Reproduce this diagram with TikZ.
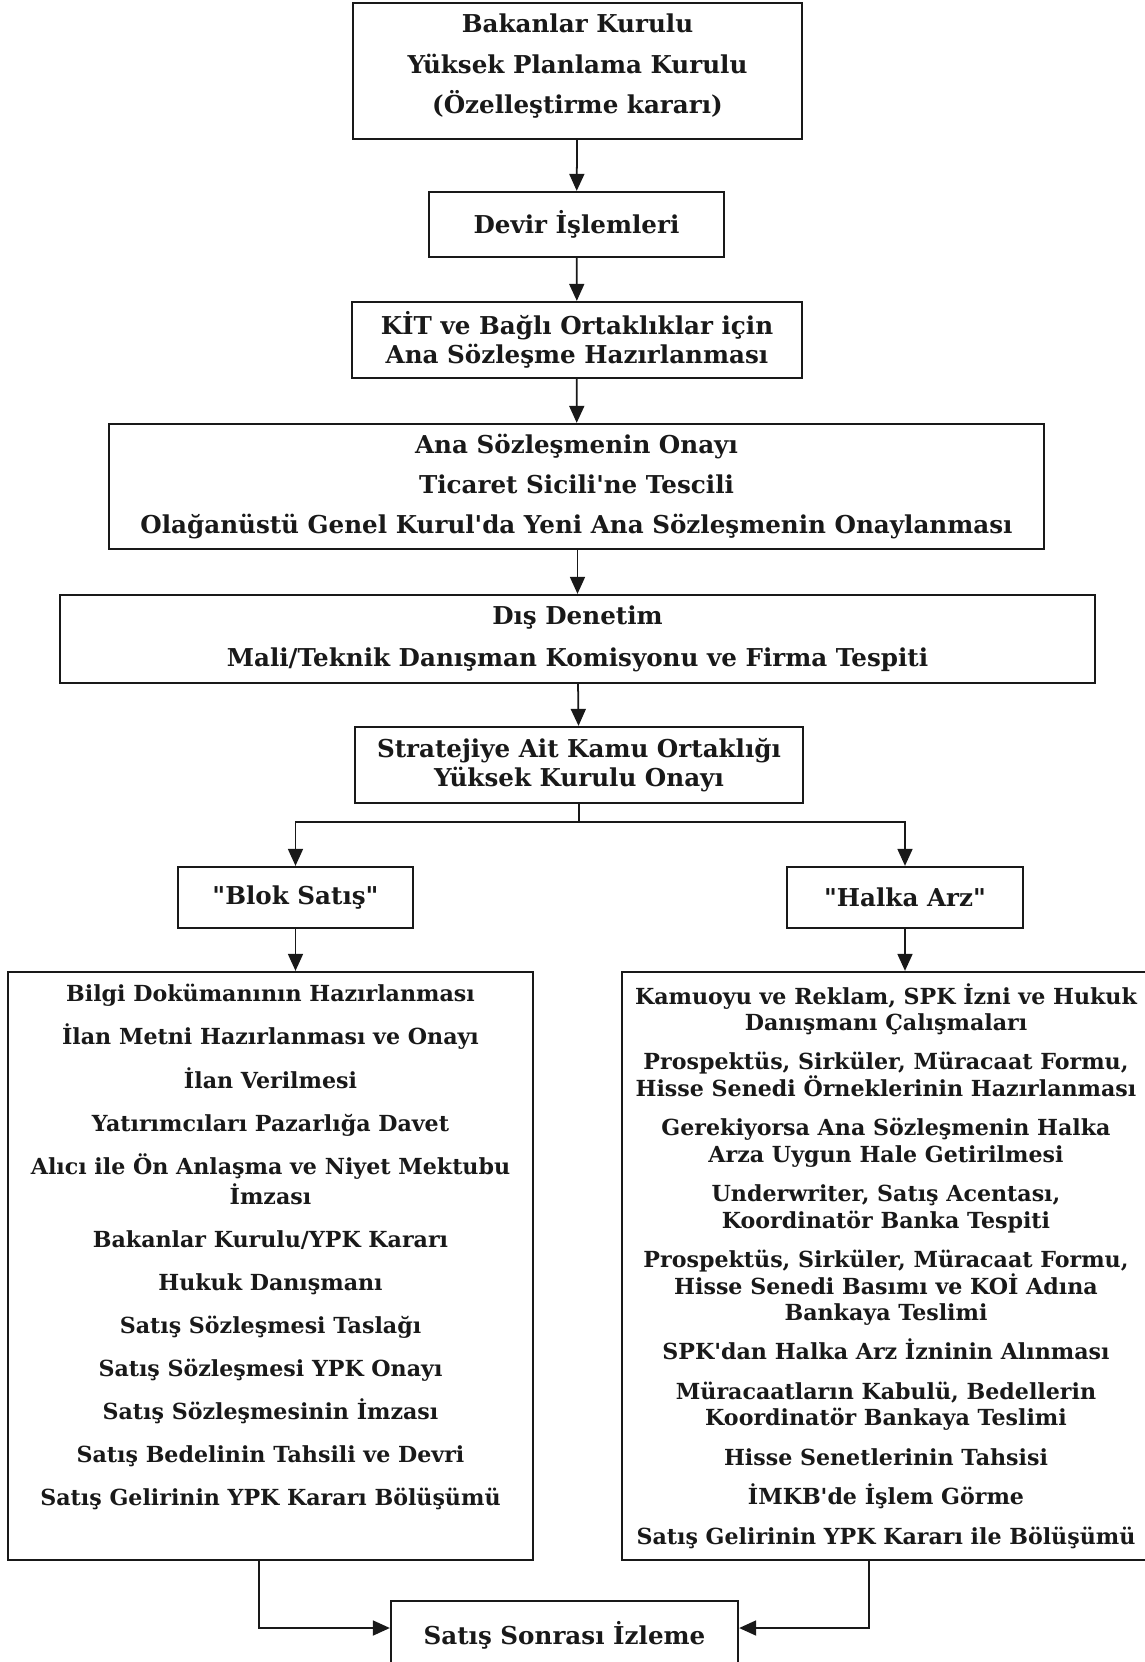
\documentclass[tikz,border=0pt]{standalone}
\usepackage{fontspec}
\setmainfont{DejaVu Serif}[Ligatures=TeXOff]
\usetikzlibrary{arrows.meta}

\begin{document}
\begin{tikzpicture}[
  every node/.style = {shape=rectangle, draw=black!90, line width=1.3pt,
    align=center, inner sep=0pt, text=black!90,
    font=\bfseries\fontsize{14}{16.5}\selectfont},
  arr/.style = {draw=black!90, line width=1pt,
    -{Triangle[length=3.4mm, width=3mm]}},
  ]
  \useasboundingbox (0,0) rectangle (22.9,-33.24);
  % ust kisim
  \node[minimum width=8.98cm, minimum height=2.72cm] (kurul) at (11.55,-1.42)
    {Bakanlar Kurulu\\[6.5pt] Yüksek Planlama Kurulu\\[6.5pt] (Özelleştirme kararı)\\[-8.5pt]\mbox{}};
  \node[minimum width=5.9cm, minimum height=1.3cm] (devir) at (11.53,-4.49)
    {Devir İşlemleri};
  \node[minimum width=9cm, minimum height=1.52cm] (anasoz) at (11.54,-6.8)
    {KİT ve Bağlı Ortaklıklar için\\ Ana Sözleşme Hazırlanması};
  \node[minimum width=18.7cm, minimum height=2.5cm] (onay) at (11.53,-9.73)
    {Ana Sözleşmenin Onayı\\[6pt] Ticaret Sicili'ne Tescili\\[6pt]
     Olağanüstü Genel Kurul'da Yeni Ana Sözleşmenin Onaylanması};
  \node[minimum width=20.7cm, minimum height=1.76cm] (denetim) at (11.55,-12.78)
    {Dış Denetim\\[7pt] Mali/Teknik Danışman Komisyonu ve Firma Tespiti};
  \node[minimum width=8.96cm, minimum height=1.52cm] (strateji) at (11.58,-15.3)
    {Stratejiye Ait Kamu Ortaklığı\\ Yüksek Kurulu Onayı};
  % iki yol
  \node[minimum width=4.7cm, minimum height=1.22cm] (blok) at (5.91,-17.95)
    {"Blok Satış"};
  \node[minimum width=4.72cm, minimum height=1.22cm] (halka) at (18.1,-17.95)
    {"Halka Arz"};
  \node[minimum width=10.5cm, minimum height=11.76cm,
        font=\bfseries\fontsize{12.6}{17}\selectfont] (blokadim) at (5.41,-25.32)
    {Bilgi Dokümanının Hazırlanması\\[7.5pt]
     İlan Metni Hazırlanması ve Onayı\\[7.5pt]
     İlan Verilmesi\\[7.5pt]
     Yatırımcıları Pazarlığa Davet\\[7.5pt]
     Alıcı ile Ön Anlaşma ve Niyet Mektubu\\
     İmzası\\[7.5pt]
     Bakanlar Kurulu/YPK Kararı\\[7.5pt]
     Hukuk Danışmanı\\[7.5pt]
     Satış Sözleşmesi Taslağı\\[7.5pt]
     Satış Sözleşmesi YPK Onayı\\[7.5pt]
     Satış Sözleşmesinin İmzası\\[7.5pt]
     Satış Bedelinin Tahsili ve Devri\\[7.5pt]
     Satış Gelirinin YPK Kararı Bölüşümü\\[7pt]\mbox{}};
  \node[minimum width=10.56cm, minimum height=11.76cm,
        font=\bfseries\fontsize{12.6}{15}\selectfont] (halkaadim) at (17.72,-25.32)
    {Kamuoyu ve Reklam, SPK İzni ve Hukuk\\
     Danışmanı Çalışmaları\\[7.5pt]
     Prospektüs, Sirküler, Müracaat Formu,\\
     Hisse Senedi Örneklerinin Hazırlanması\\[7.5pt]
     Gerekiyorsa Ana Sözleşmenin Halka\\
     Arza Uygun Hale Getirilmesi\\[7.5pt]
     Underwriter, Satış Acentası,\\
     Koordinatör Banka Tespiti\\[7.5pt]
     Prospektüs, Sirküler, Müracaat Formu,\\
     Hisse Senedi Basımı ve KOİ Adına\\
     Bankaya Teslimi\\[7.5pt]
     SPK'dan Halka Arz İzninin Alınması\\[7.5pt]
     Müracaatların Kabulü, Bedellerin\\
     Koordinatör Bankaya Teslimi\\[7.5pt]
     Hisse Senetlerinin Tahsisi\\[7.5pt]
     İMKB'de İşlem Görme\\[7.5pt]
     Satış Gelirinin YPK Kararı ile Bölüşümü};
  \node[minimum width=6.94cm, minimum height=1.36cm] (izleme) at (11.29,-32.7)
    {Satış Sonrası İzleme};
  % oklar
  \draw[arr] (kurul) -- (devir);
  \draw[arr] (devir) -- (anasoz);
  \draw[arr] (anasoz) -- (onay);
  \draw[arr] (onay.south -| denetim.north) -- (denetim);
  \draw[arr] (denetim) -- (strateji);
  \coordinate (ayrim) at (11.58,-16.44);
  \draw[line width=1pt, draw=black!90] (strateji.south) -- (ayrim);
  \draw[arr] (ayrim) -| (blok.north);
  \draw[arr] (ayrim) -| (halka.north);
  \draw[arr] (blok.south) -- (blok.south |- blokadim.north);
  \draw[arr] (halka.south) -- (halka.south |- halkaadim.north);
  \draw[arr] ([xshift=-0.23cm]blokadim.south) |- ([yshift=0.14cm]izleme.west);
  \draw[arr] ([xshift=-0.34cm]halkaadim.south) |- ([yshift=0.14cm]izleme.east);
\end{tikzpicture}
\end{document}
